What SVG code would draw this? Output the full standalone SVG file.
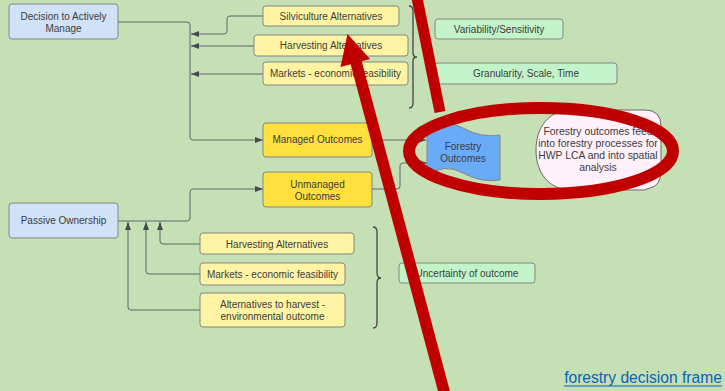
<svg xmlns="http://www.w3.org/2000/svg" width="725" height="391" viewBox="0 0 725 391">
<defs>
<style>
text{font-family:"Liberation Sans",Arial,sans-serif;font-size:10px;fill:#3c3c3c;text-anchor:middle}
.b{stroke:#858585;stroke-width:1}
.blue{fill:#cfe2f8}
.pale{fill:#fff4a3}
.gold{fill:#ffe03d}
.green{fill:#c3f4c9}
.c{fill:none;stroke:#5f676f;stroke-width:1}
.brace{fill:none;stroke:#444;stroke-width:1.3}
.red{fill:none;stroke:#c00000}
</style>
<marker id="ah" markerUnits="userSpaceOnUse" markerWidth="8" markerHeight="6" refX="8" refY="3" orient="auto">
<path d="M0,0 L8,3 L0,6 z" fill="#454b52"/>
</marker>
</defs>
<rect x="0" y="0" width="725" height="391" fill="#c5e0b4"/>

<g id="connectors">
<path class="c" d="M118,22 H187 Q190,22 190,25 V137 Q190,140 193,140 H263" marker-end="url(#ah)"/>
<path class="c" d="M263,16 H230 Q227,16 227,19 V31 Q227,34 224,34 H191" marker-end="url(#ah)"/>
<path class="c" d="M254,46 H191" marker-end="url(#ah)"/>
<path class="c" d="M263,74 H191" marker-end="url(#ah)"/>
<path class="c" d="M118,221 H187 Q190,221 190,218 V192 Q190,189 193,189 H263" marker-end="url(#ah)"/>
<path class="c" d="M200,244 H163 Q160,244 160,241 V222" marker-end="url(#ah)"/>
<path class="c" d="M200,274 H149 Q146,274 146,271 V222" marker-end="url(#ah)"/>
<path class="c" d="M200,310 H131 Q128,310 128,307 V222" marker-end="url(#ah)"/>
<path class="c" d="M372,140 H426" marker-end="url(#ah)"/>
<path class="c" d="M372,189 H397 Q400,189 400,186 V166 Q400,163 403,163 H427" marker-end="url(#ah)"/>
</g>

<g id="decision"><rect class="b blue" x="9" y="4" width="109" height="35" rx="3"/><text x="63.5" y="20">Decision to Actively</text><text x="63.5" y="32">Manage</text></g>
<g id="silviculture"><rect class="b pale" x="263" y="6" width="136" height="20" rx="3"/><text x="331" y="19.5">Silviculture Alternatives</text></g>
<g id="harvesting-top"><rect class="b pale" x="254" y="35" width="154" height="21" rx="3"/><text x="331" y="49">Harvesting Alternatives</text></g>
<g id="markets-top"><rect class="b pale" x="263" y="62" width="145" height="23" rx="3"/><text x="335.5" y="77">Markets - economic feasibility</text></g>
<path id="brace-top" class="brace" d="M409,6 Q413,6 413,11 L413,53 Q413,57 417,57 Q413,57 413,61 L413,103 Q413,108 409,108"/>
<g id="variability"><rect class="b green" x="435" y="19" width="128" height="20" rx="3"/><text x="499" y="33">Variability/Sensitivity</text></g>
<g id="granularity"><rect class="b green" x="435" y="63" width="182" height="21" rx="3"/><text x="526" y="77">Granularity, Scale, Time</text></g>
<g id="managed"><rect class="b gold" x="263" y="123" width="109" height="34" rx="3"/><text x="317.5" y="143">Managed Outcomes</text></g>
<g id="unmanaged"><rect class="b gold" x="263" y="172" width="109" height="35" rx="3"/><text x="317.5" y="188">Unmanaged</text><text x="317.5" y="200">Outcomes</text></g>
<g id="passive"><rect class="b blue" x="9" y="203" width="109" height="35" rx="3"/><text x="63.5" y="224">Passive Ownership</text></g>
<g id="harvesting-bottom"><rect class="b pale" x="200" y="233" width="154" height="21" rx="3"/><text x="277" y="248">Harvesting Alternatives</text></g>
<g id="markets-bottom"><rect class="b pale" x="200" y="263" width="145" height="22" rx="3"/><text x="272.5" y="278">Markets - economic feasibility</text></g>
<g id="alternatives"><rect class="b pale" x="200" y="293" width="145" height="34" rx="3"/><text x="272.5" y="308">Alternatives to harvest  -</text><text x="272.5" y="320">environmental outcome</text></g>
<path id="brace-bottom" class="brace" d="M373,227 Q377,227 377,232 L377,273 Q377,278 381,278 Q377,278 377,283 L377,323 Q377,328 373,328"/>
<g id="uncertainty"><rect class="b green" x="399" y="263" width="136" height="20" rx="3"/><text x="467" y="277">Uncertainty of outcome</text></g>
<g id="forestry-outcomes"><path class="b" fill="#6aabf8" d="M427,130 Q445,118 463,128 T500,135 L500,180 Q481,183 463,173 T427,175 Z"/><text x="463" y="150">Forestry</text><text x="463" y="162">Outcomes</text></g>
<g id="feed-note"><path stroke="#6a6a6a" stroke-width="1" fill="#fff0fa" d="M572,110 L645,110 Q661,110 661,126 L661,170 Q661,186 650,188 Q645,191 636,190 L572,190 C548,190 536,172 536,150 C536,128 548,110 572,110 Z"/><text x="598" y="135" style="font-size:10.4px">Forestry outcomes feed</text><text x="598" y="147" style="font-size:10.4px">into forestry processes for</text><text x="598" y="159" style="font-size:10.4px">HWP LCA and into spatial</text><text x="598" y="171" style="font-size:10.4px">analysis</text></g>

<g id="annotations">
<line class="red" x1="417" y1="-2" x2="440" y2="112" stroke-width="11"/>
<ellipse class="red" cx="541" cy="151" rx="132" ry="43" stroke-width="12"/>
<line class="red" x1="445" y1="395" x2="356" y2="62" stroke-width="11.5"/>
<polygon fill="#c00000" points="347.5,34 340.5,67 370,59"/>
</g>

<g id="link"><text x="643" y="383" style="font-size:15.6px;fill:#0563c1">forestry decision frame</text><line x1="564" y1="386" x2="722" y2="386" stroke="#0563c1" stroke-width="1"/></g>
</svg>
